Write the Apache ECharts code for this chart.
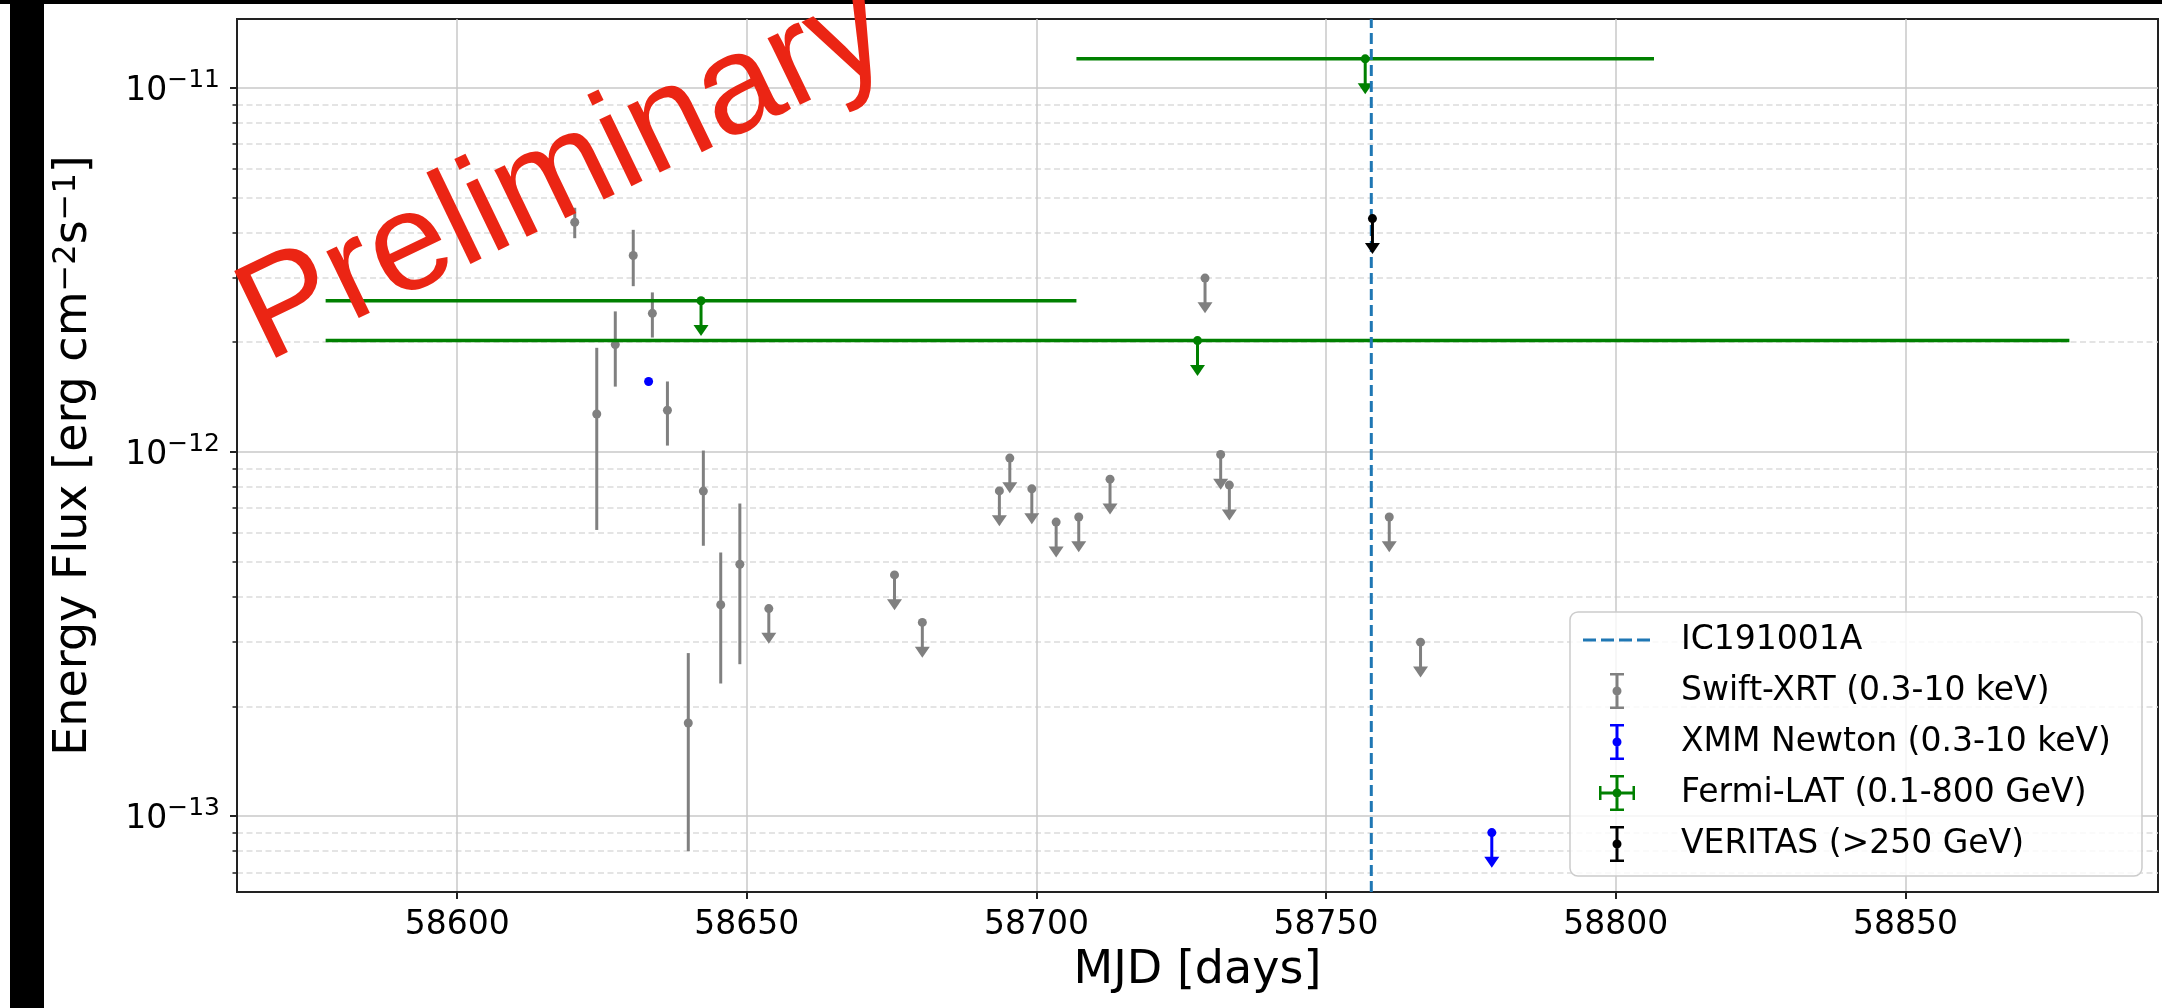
<!DOCTYPE html>
<html>
<head>
<meta charset="utf-8">
<title>IC191001A multi-wavelength light curve</title>
<script src="https://cdn.jsdelivr.net/npm/echarts@6/dist/echarts.min.js"></script>
<style>
  html, body { margin: 0; padding: 0; background: #ffffff; }
  #chart { width: 2162px; height: 1008px; }
</style>
</head>
<body>
<div id="chart"></div>
<script>
// ---------------- data ----------------
// Swift-XRT detections: MJD, energy flux and 1-sigma error [erg cm^-2 s^-1]
const swiftMjd  = [58620.3, 58624.1, 58627.3, 58630.4, 58633.7, 58636.3, 58639.9, 58642.5, 58645.5, 58648.8];
const swiftFlux = [4.27e-12, 1.27e-12, 1.97e-12, 3.46e-12, 2.40e-12, 1.30e-12, 1.80e-13, 7.80e-13, 3.80e-13, 4.91e-13];
const swiftErr  = [0.41e-12, 0.66e-12, 0.46e-12, 0.61e-12, 0.34e-12, 0.26e-12, 1.00e-13, 2.28e-13, 1.49e-13, 2.30e-13];

// Swift-XRT upper limits
const swiftUlMjd  = [58653.8, 58675.5, 58680.3, 58693.6, 58695.4, 58699.2, 58703.4, 58707.3, 58712.7, 58729.1, 58731.8, 58733.3, 58760.9, 58766.3];
const swiftUlFlux = [3.71e-13, 4.59e-13, 3.40e-13, 7.81e-13, 9.61e-13, 7.91e-13, 6.41e-13, 6.62e-13, 8.41e-13, 3.00e-12, 9.83e-13, 8.10e-13, 6.62e-13, 3.00e-13];

// XMM-Newton detection and upper limit
const xmmMjd  = [58633.05];
const xmmFlux = [1.56e-12];
const xmmErr  = [0.03e-12];
const xmmUlMjd  = [58778.6];
const xmmUlFlux = [9.0e-14];

// Fermi-LAT upper limits: time bin start / end (MJD) and flux
const fermiStart  = [58577.3, 58577.3, 58706.9];
const fermiEnd    = [58706.9, 58878.3, 58806.6];
const fermiUlFlux = [2.60e-12, 2.02e-12, 1.20e-11];

// VERITAS upper limit
const veritasUlMjd  = [58758.0];
const veritasUlFlux = [4.37e-12];

// neutrino alert time
const icMjd = 58757.8;

// axes
const xTicks      = [58600, 58650, 58700, 58750, 58800, 58850];
const yMajorTicks = [1e-13, 1e-12, 1e-11];
const yMinorTicks = [7e-14, 8e-14, 9e-14,
                     2e-13, 3e-13, 4e-13, 5e-13, 6e-13, 7e-13, 8e-13, 9e-13,
                     2e-12, 3e-12, 4e-12, 5e-12, 6e-12, 7e-12, 8e-12, 9e-12];
const X_MIN = 58562.0, X_MAX = 58893.6;
const Y_MIN = 6.18e-14, Y_MAX = 1.544e-11;

// ---------------- style ----------------
const GRAY = '#808080', BLUE = '#0000ff', GREEN = '#008000', BLACK = '#000000', IC_BLUE = '#1f77b4';
const NAME_IC = 'IC191001A';
const NAME_SWIFT = 'Swift-XRT (0.3-10 keV)';
const NAME_XMM = 'XMM Newton (0.3-10 keV)';
const NAME_FERMI = 'Fermi-LAT (0.1-800 GeV)';
const NAME_VERITAS = 'VERITAS (>250 GeV)';
const FONT = 'DejaVu Sans';
const UL_ARROW = 0.8;      // arrow tip drawn at 0.8 x the limit
const MARK_R = 4.5;

function errItem(color) {
  return function (params, api) {
    const x = api.value(0);
    const p  = api.coord([x, api.value(1)]);
    const lo = api.coord([x, api.value(2)]);
    const hi = api.coord([x, api.value(3)]);
    return { type: 'group', children: [
      { type: 'line', shape: { x1: p[0], y1: lo[1], x2: p[0], y2: hi[1] }, style: { stroke: color, lineWidth: 3 } },
      { type: 'circle', shape: { cx: p[0], cy: p[1], r: MARK_R }, style: { fill: color } }
    ]};
  };
}

function ulShapes(color, xc, yc, yTip) {
  const w = 7.5, h = 11;
  return [
    { type: 'line', shape: { x1: xc, y1: yc, x2: xc, y2: yTip - h + 1 }, style: { stroke: color, lineWidth: 3 } },
    { type: 'polygon', shape: { points: [[xc - w, yTip - h], [xc + w, yTip - h], [xc, yTip]] }, style: { fill: color } },
    { type: 'circle', shape: { cx: xc, cy: yc, r: MARK_R }, style: { fill: color } }
  ];
}

function ulItem(color) {
  return function (params, api) {
    const x = api.value(0), f = api.value(1);
    const p = api.coord([x, f]);
    const t = api.coord([x, f * UL_ARROW]);
    return { type: 'group', children: ulShapes(color, p[0], p[1], t[1]) };
  };
}

function fermiItem(params, api) {
  const x0 = api.value(0), x1 = api.value(1), f = api.value(2);
  const a = api.coord([x0, f]);
  const b = api.coord([x1, f]);
  const c = api.coord([(x0 + x1) / 2, f]);
  const t = api.coord([(x0 + x1) / 2, f * UL_ARROW]);
  return { type: 'group', children: [
    { type: 'line', shape: { x1: a[0], y1: a[1], x2: b[0], y2: b[1] }, style: { stroke: GREEN, lineWidth: 3.5 } }
  ].concat(ulShapes(GREEN, c[0], c[1], t[1])) };
}

// legend glyphs (93 x 36 boxes)
const BOX = 'M0,0h0.01v0.01h-0.01z M92.99,35.99h0.01v0.01h-0.01z ';
const DOT = 'M29.5,18a4.5,4.5 0 1,1 9,0a4.5,4.5 0 1,1 -9,0z ';
const ICON_DASH = 'path://' + BOX +
  'M0,16.5h13v3h-13z M18,16.5h13v3h-13z M36,16.5h13v3h-13z M54,16.5h13v3h-13z';
const ICON_ERR = 'path://' + BOX +
  'M32.5,0h3v36h-3z M27,0h14v2.5h-14z M27,33.5h14v2.5h-14z ' + DOT;
const ICON_CROSS = 'path://' + BOX +
  'M32.5,0h3v36h-3z M27,0h14v2.5h-14z M27,33.5h14v2.5h-14z ' +
  'M16,16.5h36v3h-36z M16,11h2.5v14h-2.5z M49.5,11h2.5v14h-2.5z ' + DOT;

const chart = echarts.init(document.getElementById('chart'), null, { renderer: 'canvas' });

chart.setOption({
  animation: false,
  backgroundColor: '#ffffff',
  textStyle: { fontFamily: FONT },
  grid: { left: 237, right: 4, top: 19, bottom: 116, show: true, borderColor: '#222222', borderWidth: 2, backgroundColor: 'transparent', containLabel: false },
  xAxis: {
    type: 'value', min: X_MIN, max: X_MAX,
    name: 'MJD [days]', nameLocation: 'middle', nameGap: 56,
    nameTextStyle: { fontSize: 46, color: '#000', fontFamily: FONT },
    axisLine: { show: true, onZero: false, lineStyle: { color: '#222222', width: 2 } },
    axisTick: { show: true, customValues: xTicks, length: 7, lineStyle: { color: '#222222', width: 2 } },
    axisLabel: { customValues: xTicks, fontSize: 33, color: '#000', fontFamily: FONT, margin: 17, formatter: v => String(v) },
    splitLine: { show: true, lineStyle: { color: '#c8c8c8', width: 1.5 } }
  },
  yAxis: [
    {
      type: 'log', logBase: 10, min: Y_MIN, max: Y_MAX,
      name: 'Energy Flux [erg cm{s|−2}s{s|−1}]', nameLocation: 'middle', nameGap: 140, nameRotate: 90,
      nameTextStyle: { fontSize: 46, color: '#000', fontFamily: FONT,
        rich: { s: { fontSize: 32, color: '#000', fontFamily: FONT, verticalAlign: 'top', lineHeight: 30 } } },
      axisLine: { show: true, lineStyle: { color: '#222222', width: 2 } },
      axisTick: { show: true, customValues: yMajorTicks, length: 7, lineStyle: { color: '#222222', width: 2 } },
      axisLabel: {
        customValues: yMajorTicks, margin: 17, color: '#000',
        formatter: v => '{b|10}{s|−' + Math.round(-Math.log10(v)) + '}',
        rich: {
          b: { fontSize: 33, fontFamily: FONT, color: '#000', verticalAlign: 'bottom', lineHeight: 40 },
          s: { fontSize: 25, fontFamily: FONT, color: '#000', verticalAlign: 'top', lineHeight: 24 }
        }
      },
      splitLine: { show: true, lineStyle: { color: '#c8c8c8', width: 1.5 } }
    },
    {
      type: 'log', logBase: 10, min: Y_MIN, max: Y_MAX, position: 'left',
      axisLine: { show: false },
      axisTick: { show: true, customValues: yMinorTicks, length: 4.5, lineStyle: { color: '#222222', width: 1.5 } },
      axisLabel: { show: false },
      splitLine: { show: true, lineStyle: { color: '#dcdcdc', width: 1.5, type: [6, 3.5] } }
    }
  ],
  legend: {
    orient: 'vertical', left: 1570, top: 612,
    padding: [10, 31, 14, 13], itemGap: 15, itemWidth: 93, itemHeight: 36,
    backgroundColor: 'rgba(255,255,255,0.8)', borderColor: '#cccccc', borderWidth: 1.5, borderRadius: 8,
    textStyle: { fontSize: 33, color: '#000', fontFamily: FONT },
    itemStyle: { borderWidth: 0 },
    selectedMode: false,
    data: [
      { name: NAME_IC, icon: ICON_DASH, itemStyle: { color: IC_BLUE } },
      { name: NAME_SWIFT, icon: ICON_ERR, itemStyle: { color: GRAY } },
      { name: NAME_XMM, icon: ICON_ERR, itemStyle: { color: BLUE } },
      { name: NAME_FERMI, icon: ICON_CROSS, itemStyle: { color: GREEN } },
      { name: NAME_VERITAS, icon: ICON_ERR, itemStyle: { color: BLACK } }
    ]
  },
  series: [
    {
      type: 'custom', name: NAME_SWIFT, silent: true, z: 3, itemStyle: { color: GRAY },
      data: swiftMjd.map((x, i) => [x, swiftFlux[i], swiftFlux[i] - swiftErr[i], swiftFlux[i] + swiftErr[i]]),
      encode: { x: 0, y: [1, 2, 3] }, renderItem: errItem(GRAY)
    },
    {
      type: 'custom', name: NAME_SWIFT, silent: true, z: 3, itemStyle: { color: GRAY },
      data: swiftUlMjd.map((x, i) => [x, swiftUlFlux[i]]),
      encode: { x: 0, y: 1 }, renderItem: ulItem(GRAY)
    },
    {
      type: 'custom', name: NAME_XMM, silent: true, z: 4, itemStyle: { color: BLUE },
      data: xmmMjd.map((x, i) => [x, xmmFlux[i], xmmFlux[i] - xmmErr[i], xmmFlux[i] + xmmErr[i]]),
      encode: { x: 0, y: [1, 2, 3] }, renderItem: errItem(BLUE)
    },
    {
      type: 'custom', name: NAME_XMM, silent: true, z: 4, itemStyle: { color: BLUE },
      data: xmmUlMjd.map((x, i) => [x, xmmUlFlux[i]]),
      encode: { x: 0, y: 1 }, renderItem: ulItem(BLUE)
    },
    {
      type: 'custom', name: NAME_FERMI, silent: true, z: 5, itemStyle: { color: GREEN },
      data: fermiStart.map((x, i) => [x, fermiEnd[i], fermiUlFlux[i]]),
      encode: { x: [0, 1], y: 2 }, renderItem: fermiItem
    },
    {
      type: 'line', name: NAME_IC, silent: true, z: 6, symbol: 'none',
      data: [[icMjd, Y_MIN], [icMjd, Y_MAX]],
      itemStyle: { color: IC_BLUE },
      lineStyle: { color: IC_BLUE, width: 3, type: [11, 5] }
    },
    {
      type: 'custom', name: NAME_VERITAS, silent: true, z: 7, itemStyle: { color: BLACK },
      data: veritasUlMjd.map((x, i) => [x, veritasUlFlux[i]]),
      encode: { x: 0, y: 1 }, renderItem: ulItem(BLACK)
    }
  ],
  graphic: [
    { type: 'rect', z: 200, silent: true, shape: { x: 10, y: 0, width: 34, height: 1008 }, style: { fill: '#000' } },
    { type: 'rect', z: 200, silent: true, shape: { x: 0, y: 0, width: 2162, height: 4 }, style: { fill: '#000' } },
    { type: 'text', z: 300, silent: true, x: 249, y: 328, rotation: 0.45,
      style: { text: 'Preliminary', fontSize: 140, fontFamily: 'Liberation Sans', fill: '#eb2514',
               align: 'left', verticalAlign: 'middle', textAlign: 'left', textVerticalAlign: 'middle' } }
  ]
});
</script>
</body>
</html>
